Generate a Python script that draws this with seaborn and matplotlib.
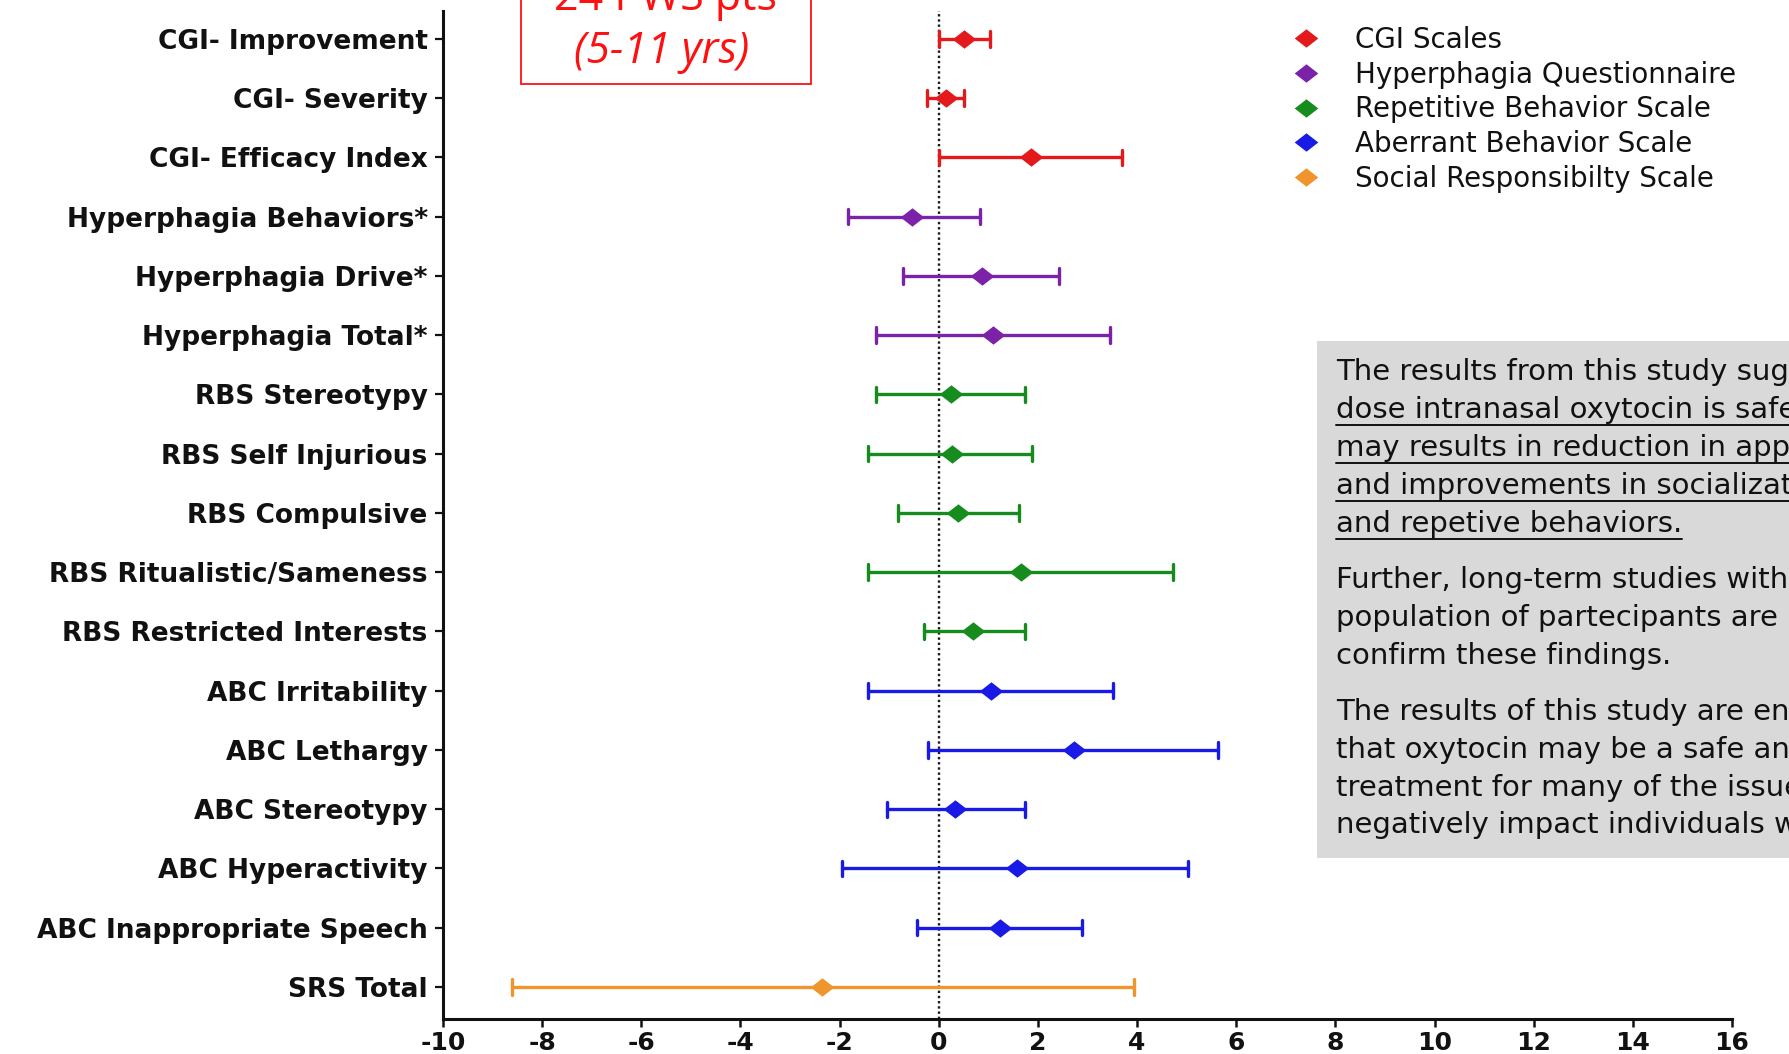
import numpy as np
import pandas as pd
import matplotlib
matplotlib.use("Agg")
import matplotlib.pyplot as plt
from matplotlib.lines import Line2D
from matplotlib.markers import MarkerStyle
from matplotlib.patches import Rectangle
from matplotlib.path import Path
import seaborn as sns

# ---- data -------------------------------------------------------------
measures = [
    "CGI- Improvement", "CGI- Severity", "CGI- Efficacy Index",
    "Hyperphagia Behaviors*", "Hyperphagia Drive*", "Hyperphagia Total*",
    "RBS Stereotypy", "RBS Self Injurious", "RBS Compulsive",
    "RBS Ritualistic/Sameness", "RBS Restricted Interests",
    "ABC Irritability", "ABC Lethargy", "ABC Stereotypy",
    "ABC Hyperactivity", "ABC Inappropriate Speech", "SRS Total",
]
scale_names = [
    "CGI Scales", "Hyperphagia Questionnaire", "Repetitive Behavior Scale",
    "Aberrant Behavior Scale", "Social Responsibilty Scale",
]
measure_scale = (["CGI Scales"] * 3 + ["Hyperphagia Questionnaire"] * 3
                 + ["Repetitive Behavior Scale"] * 5
                 + ["Aberrant Behavior Scale"] * 5
                 + ["Social Responsibilty Scale"])
estimate = [0.50, 0.14, 1.86, -0.53, 0.88, 1.10, 0.24, 0.26, 0.38, 1.66,
            0.70, 1.05, 2.72, 0.32, 1.58, 1.24, -2.35]
ci_low = [0.00, -0.24, 0.00, -1.84, -0.72, -1.26, -1.26, -1.43, -0.82,
          -1.43, -0.30, -1.43, -0.22, -1.05, -1.95, -0.43, -8.61]
ci_high = [1.03, 0.51, 3.70, 0.83, 2.42, 3.45, 1.73, 1.89, 1.62, 4.72,
           1.73, 3.52, 5.63, 1.74, 5.02, 2.89, 3.93]
x_ticks = [-10, -8, -6, -4, -2, 0, 2, 4, 6, 8, 10, 12, 14, 16]

palette = {
    "CGI Scales": "#e3191c",
    "Hyperphagia Questionnaire": "#7b22a8",
    "Repetitive Behavior Scale": "#168c1e",
    "Aberrant Behavior Scale": "#1a1ae6",
    "Social Responsibilty Scale": "#f0952d",
}

summary_lines = [
    ("The results from this study suggest that low", False),
    ("dose intranasal oxytocin is safe and", True),
    ("may results in reduction in appetite", True),
    ("and improvements in socialization", True),
    ("and repetive behaviors.", True),
    ("Further, long-term studies with a larger", False),
    ("population of partecipants are needed to", False),
    ("confirm these findings.", False),
    ("The results of this study are encouraging", False),
    ("that oxytocin may be a safe and effective", False),
    ("treatment for many of the issues that", False),
    ("negatively impact individuals with PWS.", False),
]

# long form: each measure carries its lower bound, estimate and upper bound;
# the median gives the estimate and min/max give the interval
rows = []
for m, s, lo, est, hi in zip(measures, measure_scale, ci_low, estimate, ci_high):
    for v in (lo, est, hi):
        rows.append({"measure": m, "scale": s, "value": v})
df = pd.DataFrame(rows)

# ---- figure -------------------------------------------------------------
sns.set_style("ticks")
plt.rcParams["font.family"] = ["DejaVu Sans"]

W, H = 1789, 1054
fig = plt.figure(figsize=(W / 100, H / 100), dpi=100)
fig.patch.set_facecolor("white")


def fx(px):
    return px / W


def fy(py):
    return 1 - py / H


ax = fig.add_axes([fx(443), fy(1019), fx(1732) - fx(443), fy(11) - fy(1019)])
ax.set_facecolor("white")

diamond = MarkerStyle(Path([(-1, 0), (0, 0.78), (1, 0), (0, -0.78), (-1, 0)],
                           [Path.MOVETO, Path.LINETO, Path.LINETO,
                            Path.LINETO, Path.CLOSEPOLY]))

ax.axvline(0, color="#1a1a1a", lw=1.7, linestyle=(0, (1.0, 1.2)), zorder=1)

sns.pointplot(
    data=df, x="value", y="measure", hue="scale",
    order=measures, hue_order=scale_names, palette=palette,
    estimator="median", errorbar=lambda v: (v.min(), v.max()),
    orient="h", linestyle="none", markers=diamond,
    markersize=17, markeredgewidth=0,
    capsize=0.26, err_kws={"linewidth": 2.4},
    legend=False, ax=ax,
)

ax.set_xlim(-10, 16)
ax.set_ylim(len(measures) - 1 + 0.54, -0.47)
ax.set_xticks(x_ticks)
ax.set_xticklabels([str(t) for t in x_ticks])
ax.set_xlabel("")
ax.set_ylabel("")
ax.grid(False)
sns.despine(ax=ax)
for side in ("left", "bottom"):
    ax.spines[side].set_linewidth(2.2)
    ax.spines[side].set_color("#111111")
ax.tick_params(axis="y", length=6, width=1.6, pad=5, labelsize=19,
               color="#111111")
ax.tick_params(axis="x", length=6, width=1.8, pad=3, labelsize=18,
               color="#111111")
for lab in ax.get_yticklabels() + ax.get_xticklabels():
    lab.set_fontweight("bold")
    lab.set_color("#111111")

# ---- legend ------------------------------------------------------------
handles = [Line2D([], [], marker=diamond, color=palette[s], linestyle="none",
                  markersize=17, markeredgewidth=0) for s in scale_names]
fig.legend(handles, scale_names, loc="upper left",
           bbox_to_anchor=(fx(1292), fy(26)), frameon=False, fontsize=20,
           handlelength=1.0, handletextpad=1.26, labelspacing=0.24,
           borderpad=0, borderaxespad=0, labelcolor="#111111")

# ---- cohort box ---------------------------------------------------------
fig.add_artist(Rectangle((fx(521), fy(84)), fx(811) - fx(521), fy(-10) - fy(84),
                         transform=fig.transFigure, facecolor="white",
                         edgecolor="#ff1010", lw=1.3))
fig.text(fx(665), fy(10), "24 PWS pts", ha="center", va="baseline",
         color="#ff1010", fontsize=31, family="Open Sans")
fig.text(fx(662), fy(63), "(5-11 yrs)", ha="center", va="baseline",
         color="#ff1010", fontsize=31, family="Open Sans", style="italic")

# ---- summary box --------------------------------------------------------
fig.add_artist(Rectangle((fx(1317), fy(858)), fx(1800) - fx(1317),
                         fy(341) - fy(858), transform=fig.transFigure,
                         facecolor="#d9d9d9", edgecolor="none", zorder=0.5))
baselines = [380, 418, 456, 494, 532, 588, 626, 664, 720, 758, 796, 833]
texts = []
for (line, ul), b in zip(summary_lines, baselines):
    t = fig.text(fx(1336), fy(b), line, ha="left", va="baseline",
                 fontsize=21, color="#111111", zorder=2)
    texts.append((t, ul, b))

fig.canvas.draw()
renderer = fig.canvas.get_renderer()
for t, ul, b in texts:
    if not ul:
        continue
    bb = t.get_window_extent(renderer)
    x1 = min(bb.x1, W + 5)
    fig.add_artist(Line2D([fx(1336), x1 / W], [fy(b + 7), fy(b + 7)],
                          transform=fig.transFigure, color="#111111",
                          lw=1.4, zorder=2))

fig.savefig("out.png", dpi=100, facecolor="white")
